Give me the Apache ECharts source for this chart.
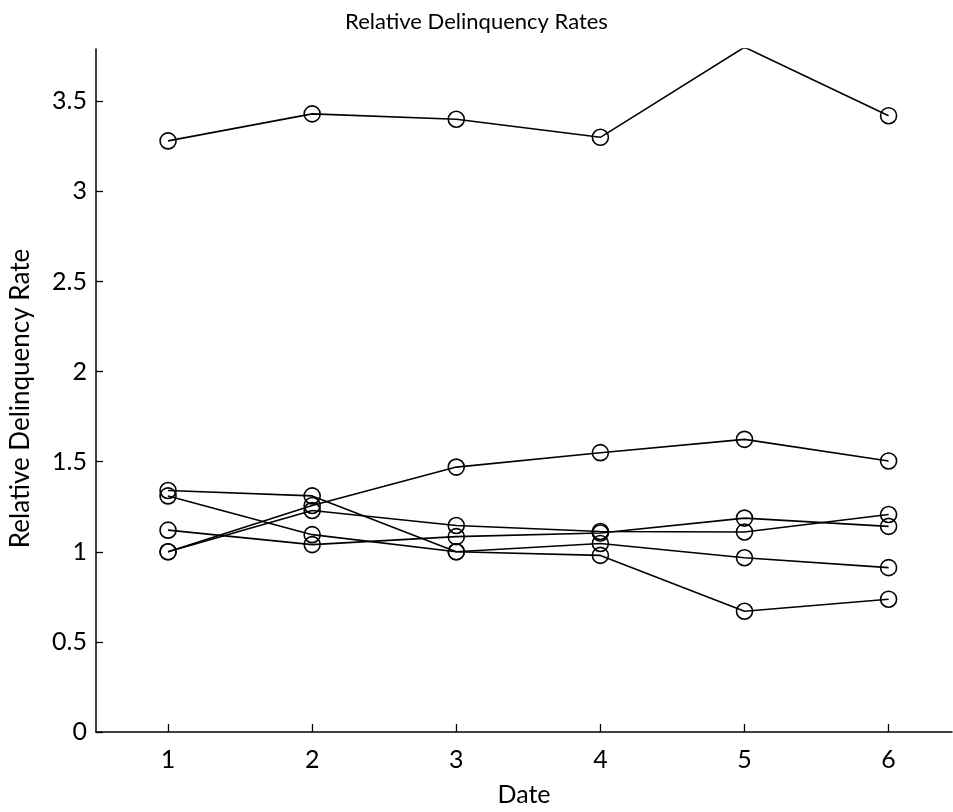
<!DOCTYPE html>
<html>
<head>
<meta charset="utf-8">
<title>Relative Delinquency Rates</title>
<script src="https://cdn.jsdelivr.net/npm/echarts@6/dist/echarts.min.js"></script>
<style>
  html, body { margin: 0; padding: 0; background: #fff; }
  #chart { width: 953px; height: 812px; }
</style>
</head>
<body>
<div id="chart"></div>
<script>
// x positions (dates)
var dates = [1, 2, 3, 4, 5, 6];
// one array per line
var groupA = [3.28, 3.43, 3.40, 3.30, 3.80, 3.42];
var groupB = [1.34, 1.31, 1.00, 0.98, 0.67, 0.737];
var groupC = [1.31, 1.095, 1.00, 1.046, 0.967, 0.912];
var groupD = [1.12, 1.04, 1.084, 1.104, 1.187, 1.141];
var groupE = [1.00, 1.257, 1.47, 1.55, 1.624, 1.504];
var groupF = [1.00, 1.229, 1.146, 1.113, 1.11, 1.207];
// tick marks
var xTicks = [1, 2, 3, 4, 5, 6];
var yTicks = [0, 0.5, 1, 1.5, 2, 2.5, 3, 3.5];

var chart = echarts.init(document.getElementById('chart'));
var font = 'Lato, "Open Sans", sans-serif';

// 每条线：黑色折线 + 空心圆
var makeSeries = function (vals) {
  return {
    type: 'line',
    data: dates.map(function (d, i) { return [d, vals[i]]; }),
    symbol: 'circle',
    symbolSize: 16,
    clip: true,
    lineStyle: { color: '#000', width: 1.6 },
    itemStyle: { color: 'rgba(0,0,0,0)', borderColor: '#000', borderWidth: 1.6 },
    emphasis: { disabled: true },
    silent: true
  };
};

var option = {
  animation: false,
  backgroundColor: '#fff',
  title: {
    text: 'Relative Delinquency Rates',
    left: 'center',
    top: 6,
    textStyle: { fontFamily: font, fontSize: 22, fontWeight: 'normal', color: '#000' }
  },
  grid: { left: 96, right: 1, top: 49, bottom: 77 },
  xAxis: {
    type: 'value',
    min: 0.5,
    max: 6.44,
    name: 'Date',
    nameLocation: 'middle',
    nameGap: 50,
    nameTextStyle: { fontFamily: font, fontSize: 25, color: '#000' },
    axisLine: { lineStyle: { color: '#000', width: 1.5 } },
    axisTick: { inside: true, length: 8, customValues: xTicks, lineStyle: { color: '#000', width: 1.3 } },
    axisLabel: { customValues: xTicks, margin: 15, fontFamily: font, fontSize: 25, color: '#000' },
    splitLine: { show: false }
  },
  yAxis: {
    type: 'value',
    min: 0,
    max: 3.79,
    name: 'Relative Delinquency Rate',
    nameLocation: 'middle',
    nameGap: 62,
    nameTextStyle: { fontFamily: font, fontSize: 26, color: '#000', padding: [0, 16, 0, 0] },
    axisLine: { show: true, lineStyle: { color: '#000', width: 1.5 } },
    axisTick: { show: true, inside: true, length: 7, customValues: yTicks, lineStyle: { color: '#000', width: 1.3 } },
    axisLabel: { customValues: yTicks, margin: 9, fontFamily: font, fontSize: 25, color: '#000' },
    splitLine: { show: false }
  },
  series: [groupA, groupB, groupC, groupD, groupE, groupF].map(makeSeries)
};

chart.setOption(option);
</script>
</body>
</html>
